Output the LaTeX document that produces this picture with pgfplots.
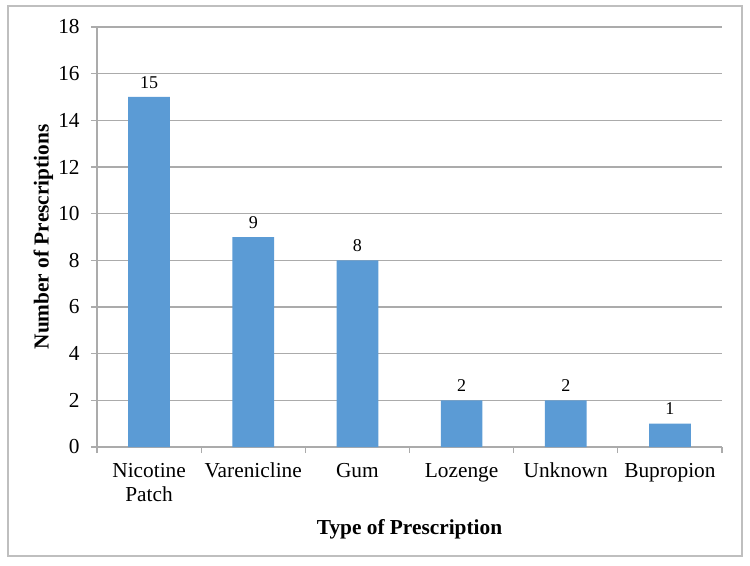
\documentclass[border=0pt]{standalone}
\usepackage{fontspec}
\setmainfont{Liberation Serif}
\usepackage{pgfplots}
\pgfplotsset{compat=1.18}
\definecolor{barblue}{HTML}{5B9BD5}
\definecolor{gridgray}{HTML}{ABABAB}
\definecolor{framegray}{HTML}{BFBFBF}
\begin{document}
\begin{tikzpicture}[x=0.75pt,y=0.75pt]
\useasboundingbox (-97,-118) rectangle (653,447);
\draw[framegray,line width=1.2pt] (-89,-109) rectangle (645,441);
\begin{axis}[
  at={(0,0)}, anchor=south west,
  scale only axis,
  width=468.75pt, height=315pt,
  ybar, bar width=0.4,
  xmin=-0.5, xmax=5.5,
  ymin=0, ymax=18,
  ytick={0,2,...,18},
  xtick={0,...,5},
  xticklabels={{\strut Nicotine\\Patch},\strut Varenicline,\strut Gum,\strut Lozenge,\strut Unknown,\strut Bupropion},
  minor xtick={-0.5,0.5,...,5.5},
  major x tick style={draw=none},
  minor x tick style={gridgray, line width=0.8pt},
  minor tick length=4.5pt,
  major tick length=4.5pt,
  tick align=outside,
  axis x line*=bottom,
  axis y line*=left,
  axis line style={gridgray, line width=0.8pt},
  y tick style={gridgray, line width=0.8pt},
  ymajorgrids,
  major grid style={gridgray, line width=0.8pt},
  /pgf/number format/assume math mode=true,
  tick label style={font=\fontsize{16}{18}\selectfont},
  yticklabel style={xshift=-5pt},
  xticklabel style={align=center, yshift=-2pt},
  xlabel={\textbf{Type of Prescription}},
  ylabel={\textbf{Number of Prescriptions}},
  label style={font=\fontsize{16}{18}\selectfont},
  xlabel style={yshift=-6.5pt},
  ylabel style={yshift=-3pt},
  nodes near coords,
  every node near coord/.append style={font=\fontsize{13.5}{15}\selectfont, black, yshift=3pt},
]
\addplot[fill=barblue, draw=none] coordinates {(0,15) (1,9) (2,8) (3,2) (4,2) (5,1)};
\end{axis}
\end{tikzpicture}
\end{document}
